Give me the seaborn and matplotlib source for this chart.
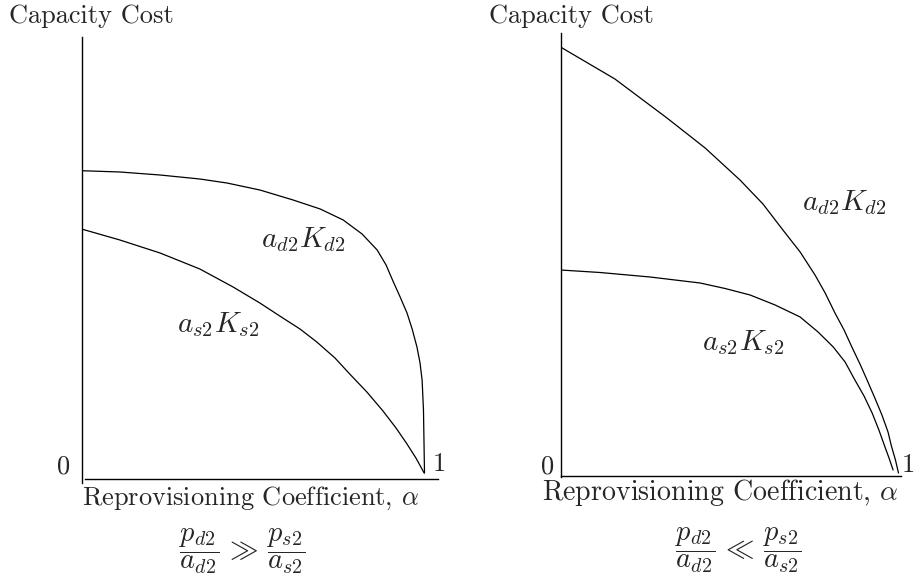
import matplotlib
matplotlib.use("Agg")
import matplotlib.pyplot as plt
import seaborn as sns
import pandas as pd

# ---- data ----
# Left panel: p_d2/a_d2 >> p_s2/a_s2
left_alpha_d = [0.0, 0.112, 0.229, 0.345, 0.424, 0.520, 0.617, 0.696, 0.763, 0.818, 0.862,
                0.888, 0.908, 0.929, 0.949, 0.964, 0.978, 0.987, 0.993, 0.997, 1.0]
left_cost_d = [3.078, 3.065, 3.035, 2.995, 2.955, 2.885, 2.785, 2.695, 2.585, 2.445, 2.285,
               2.135, 1.975, 1.815, 1.655, 1.495, 1.315, 1.155, 0.985, 0.685, 0.055]
left_alpha_s = [0.0, 0.112, 0.229, 0.345, 0.442, 0.52, 0.587, 0.637, 0.686, 0.739, 0.782,
                0.832, 0.879, 0.917, 0.949, 0.975, 0.999]
left_cost_s = [2.495, 2.385, 2.255, 2.095, 1.915, 1.755, 1.605, 1.495, 1.365, 1.205, 1.045,
               0.865, 0.675, 0.505, 0.345, 0.205, 0.055]

# Right panel: p_d2/a_d2 << p_s2/a_s2
right_alpha_d = [0.0, 0.161, 0.315, 0.428, 0.531, 0.599, 0.658, 0.709, 0.753, 0.783, 0.812,
                 0.839, 0.862, 0.886, 0.907, 0.930, 0.951, 0.969, 0.979, 0.991, 1.0]
right_cost_d = [4.29, 3.97, 3.58, 3.28, 2.96, 2.72, 2.46, 2.24, 2.01, 1.83, 1.63,
                1.46, 1.29, 1.12, 0.96, 0.78, 0.61, 0.44, 0.30, 0.16, 0.03]
right_alpha_s = [0.0, 0.117, 0.265, 0.413, 0.487, 0.561, 0.635, 0.709, 0.762, 0.807, 0.842,
                 0.871, 0.898, 0.922, 0.942, 0.960, 0.972, 0.984]
right_cost_s = [2.06, 2.035, 1.99, 1.93, 1.875, 1.81, 1.71, 1.59, 1.44, 1.29, 1.14,
                0.96, 0.80, 0.63, 0.46, 0.29, 0.18, 0.06]

curve_labels = [r"$a_{d2}K_{d2}$", r"$a_{s2}K_{s2}$"]
y_title = "Capacity Cost"
x_title = r"Reprovisioning Coefficient, $\alpha$"
conditions = [r"$\dfrac{p_{d2}}{a_{d2}}\,\gg\,\dfrac{p_{s2}}{a_{s2}}$",
              r"$\dfrac{p_{d2}}{a_{d2}}\,\ll\,\dfrac{p_{s2}}{a_{s2}}$"]

sns.set_style("white")
plt.rcParams["font.family"] = ["cmr10", "DejaVu Serif"]
plt.rcParams["mathtext.fontset"] = "cm"
plt.rcParams["axes.formatter.use_mathtext"] = True

W, H = 923, 588
fig = plt.figure(figsize=(W / 100, H / 100), dpi=100)


def fx(x):
    return x / W


def fy(y):
    return 1 - y / H


def make_axes(left, right, top, bottom):
    return fig.add_axes([fx(left), fy(bottom), (right - left) / W, (bottom - top) / H])


def style(ax, xmax, ymin, ymax, xstart):
    ax.set_xlim(0, xmax)
    ax.set_ylim(ymin, ymax)
    for s in ["top", "right"]:
        ax.spines[s].set_visible(False)
    ax.spines["bottom"].set_position(("data", 0))
    ax.spines["bottom"].set_bounds(xstart, xmax)
    for s in ["left", "bottom"]:
        ax.spines[s].set_color("black")
        ax.spines[s].set_linewidth(1.0)
    ax.set_xticks([])
    ax.set_yticks([])
    ax.set_xlabel("")
    ax.set_ylabel("")
    ax.patch.set_alpha(0)


def draw(ax, a, c):
    df = pd.DataFrame({"alpha": a, "cost": c})
    sns.lineplot(data=df, x="alpha", y="cost", ax=ax, color="black", lw=0.9,
                 sort=False, estimator=None)


# Left panel
axL = make_axes(81.5, 438, 37, 483)
draw(axL, left_alpha_d, left_cost_d)
draw(axL, left_alpha_s, left_cost_s)
style(axL, (438 - 81.5) / 343, -0.045, 4.415, 0.01)

# Right panel
axR = make_axes(560.5, 901, 33, 477)
draw(axR, right_alpha_d, right_cost_d)
draw(axR, right_alpha_s, right_cost_s)
style(axR, (901 - 560.5) / 338, -0.01, 4.43, 0.0)

fs = 19
# Titles
fig.text(fx(91), fy(23), y_title, ha="center", va="baseline", fontsize=fs)
fig.text(fx(571), fy(23), y_title, ha="center", va="baseline", fontsize=fs)
fig.text(fx(250), fy(505), x_title, ha="center", va="baseline", fontsize=fs)
fig.text(fx(720), fy(500), x_title, ha="center", va="baseline", fontsize=fs * 1.06)

# 0 / 1 markers
fig.text(fx(64), fy(467), "0", ha="center", va="center", fontsize=fs)
fig.text(fx(439), fy(464), "1", ha="center", va="center", fontsize=fs)
fig.text(fx(548), fy(467), "0", ha="center", va="center", fontsize=fs)
fig.text(fx(908), fy(465), "1", ha="center", va="center", fontsize=fs)

# Curve labels
lfs = 21
fig.text(fx(303), fy(240), curve_labels[0], ha="center", va="center", fontsize=lfs)
fig.text(fx(218), fy(325), curve_labels[1], ha="center", va="center", fontsize=lfs)
fig.text(fx(844), fy(203), curve_labels[0], ha="center", va="center", fontsize=lfs)
fig.text(fx(743), fy(343), curve_labels[1], ha="center", va="center", fontsize=lfs)

# Conditions
cfs = 20.5
fig.text(fx(242), fy(551), conditions[0], ha="center", va="center", fontsize=cfs)
fig.text(fx(738), fy(550), conditions[1], ha="center", va="center", fontsize=cfs)

fig.savefig("out.png", dpi=100, facecolor="white")
